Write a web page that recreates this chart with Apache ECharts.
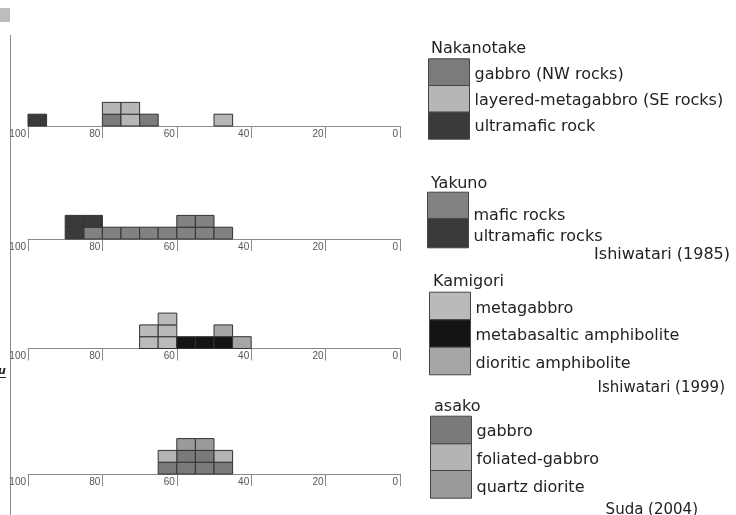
<!DOCTYPE html>
<html>
<head>
<meta charset="utf-8">
<script src="https://cdn.jsdelivr.net/npm/echarts@6/dist/echarts.min.js"></script>
<style>html,body{margin:0;padding:0;background:#fff;}#c{width:736px;height:515px;}</style>
</head>
<body>
<div id="c"></div>
<script>
// Bin upper/lower edges (100 -> 0, 5-unit bins)
const binHigh = [100,95,90,85,80,75,70,65,60,55,50,45,40,35,30,25,20,15,10,5];
const binLow  = [95,90,85,80,75,70,65,60,55,50,45,40,35,30,25,20,15,10,5,0];
const xTickInterval = 20;

// Nakanotake
const nakUltramafic = [1,0,0,0,0,0,0,0,0,0,0,0,0,0,0,0,0,0,0,0];
const nakGabbro     = [0,0,0,0,1,0,1,0,0,0,0,0,0,0,0,0,0,0,0,0];
const nakLayered    = [0,0,0,0,1,2,0,0,0,0,1,0,0,0,0,0,0,0,0,0];
// Yakuno
const yakMafic      = [0,0,0,1,1,1,1,1,2,2,1,0,0,0,0,0,0,0,0,0];
const yakUltramafic = [0,0,2,1,0,0,0,0,0,0,0,0,0,0,0,0,0,0,0,0];
// Kamigori
const kamMetagabbro = [0,0,0,0,0,0,2,3,0,0,0,0,0,0,0,0,0,0,0,0];
const kamMetabasalt = [0,0,0,0,0,0,0,0,1,1,1,0,0,0,0,0,0,0,0,0];
const kamDioritic   = [0,0,0,0,0,0,0,0,0,0,1,1,0,0,0,0,0,0,0,0];
// asako
const asaGabbro     = [0,0,0,0,0,0,0,1,2,2,1,0,0,0,0,0,0,0,0,0];
const asaFoliated   = [0,0,0,0,0,0,0,1,0,0,1,0,0,0,0,0,0,0,0,0];
const asaQuartz     = [0,0,0,0,0,0,0,0,1,1,0,0,0,0,0,0,0,0,0,0];

// panels: stacking order bottom -> top, and legend order
const panels = [
  {title:'Nakanotake', stack:[
      {name:'ultramafic rock', data:nakUltramafic, color:'#3a3a3a'},
      {name:'gabbro (NW rocks)', data:nakGabbro, color:'#7b7b7b'},
      {name:'layered-metagabbro (SE rocks)', data:nakLayered, color:'#b6b6b6'}],
    legend:['gabbro (NW rocks)','layered-metagabbro (SE rocks)','ultramafic rock']},
  {title:'Yakuno', stack:[
      {name:'mafic rocks', data:yakMafic, color:'#828282'},
      {name:'ultramafic rocks', data:yakUltramafic, color:'#3a3a3a'}],
    legend:['mafic rocks','ultramafic rocks']},
  {title:'Kamigori', stack:[
      {name:'metagabbro', data:kamMetagabbro, color:'#bababa'},
      {name:'metabasaltic amphibolite', data:kamMetabasalt, color:'#141414'},
      {name:'dioritic amphibolite', data:kamDioritic, color:'#a6a6a6'}],
    legend:['metagabbro','metabasaltic amphibolite','dioritic amphibolite']},
  {title:'asako', stack:[
      {name:'gabbro', data:asaGabbro, color:'#7a7a7a'},
      {name:'foliated-gabbro', data:asaFoliated, color:'#b4b4b4'},
      {name:'quartz diorite', data:asaQuartz, color:'#9a9a9a'}],
    legend:['gabbro','foliated-gabbro','quartz diorite']}
];

const axisY = [126, 239, 348.5, 474];
const unitPx = 11.8, yMax = 6;
const FONT = 'DejaVu Sans';

function renderItem(params, api) {
  const hi = api.value(0), lo = api.value(1), base = api.value(2), n = api.value(3);
  const color = api.visual('color');
  const children = [];
  for (let k = 0; k < n; k++) {
    const p0 = api.coord([hi, base + k + 1]);
    const p1 = api.coord([lo, base + k]);
    children.push({type:'rect', shape:{x:Math.min(p0[0],p1[0]), y:Math.min(p0[1],p1[1]),
      width:Math.abs(p1[0]-p0[0]), height:Math.abs(p1[1]-p0[1])},
      style:{fill:color, stroke:'#333', lineWidth:1}});
  }
  return {type:'group', children};
}

const grids = [], xAxes = [], yAxes = [], series = [];
panels.forEach((p, pi) => {
  grids.push({left:28, width:372, top:axisY[pi] - unitPx*yMax, height:unitPx*yMax});
  xAxes.push({type:'value', gridIndex:pi, min:0, max:100, interval:xTickInterval, inverse:true,
    axisLine:{show:true, lineStyle:{color:'#8a8a8a', width:1}},
    axisTick:{show:true, length:12, lineStyle:{color:'#8a8a8a'}},
    splitLine:{show:false},
    axisLabel:{show:true, fontSize:10, color:'#555', fontFamily:'Liberation Sans', align:'right',
      verticalAlign:'top', margin:3, padding:[0,2,0,0], showMinLabel:true, showMaxLabel:true}});
  yAxes.push({type:'value', gridIndex:pi, min:0, max:yMax, show:false});
  const cum = binHigh.map(() => 0);
  p.stack.forEach(s => {
    const data = [];
    s.data.forEach((c, i) => {
      if (c > 0) { data.push([binHigh[i], binLow[i], cum[i], c]); cum[i] += c; }
    });
    series.push({type:'custom', name:s.name, xAxisIndex:pi, yAxisIndex:pi,
      renderItem, data, encode:{x:[0,1], y:2}, color:s.color,
      itemStyle:{color:s.color, borderColor:'#333', borderWidth:1}});
  });
});

// downward text offset (px) of legend labels, per item
const textDrop = {
  'gabbro (NW rocks)':3, 'layered-metagabbro (SE rocks)':2, 'ultramafic rock':1,
  'mafic rocks':10, 'ultramafic rocks':4,
  'metagabbro':3, 'metabasaltic amphibolite':2, 'dioritic amphibolite':3,
  'gabbro':2, 'foliated-gabbro':3, 'quartz diorite':3
};
const rich = {};
Object.values(textDrop).forEach(v => {
  rich['d' + v] = {fontFamily:FONT, fontSize:16, color:'#222', height:2, lineHeight:18, padding:[2 * v,0,0,0]};
});

// legend block placement: left, first box top, box pitch, box heights
const legendLayout = [
  {left:428, top:58.3, h:[26.7, 26.7, 27]},
  {left:427, top:191.7, h:[26.6, 29]},
  {left:429, top:291.7, h:[27.6, 27.4, 27.6]},
  {left:430, top:415.7, h:[27.6, 26.7, 27.7]}
];
const legends = [];
panels.forEach((p, pi) => {
  const L = legendLayout[pi];
  let y = L.top;
  p.legend.forEach((n, k) => {
    legends.push({
      orient:'vertical', left:L.left, top:y, padding:0,
      itemGap:0, itemWidth:41, itemHeight:L.h[k], icon:'rect', selectedMode:false,
      itemStyle:{borderColor:'#444', borderWidth:1},
      formatter: name => '{d' + textDrop[name] + '|' + name + '}',
      textStyle:{fontFamily:FONT, fontSize:16, color:'#222', rich},
      data:[{name:n}]
    });
    y += L.h[k];
  });
});

const titleTexts = [
  {text:'Nakanotake', x:431, y:49, size:16},
  {text:'Yakuno', x:431, y:184, size:16},
  {text:'Kamigori', x:433, y:282, size:16},
  {text:'asako', x:434, y:407, size:16}
];
const cites = [
  {text:'Ishiwatari (1985)', x:730, y:255, size:16},
  {text:'Ishiwatari (1999)', x:725, y:388, size:15},
  {text:'Suda (2004)', x:698, y:510, size:15}
];

const graphic = [
  {type:'rect', shape:{x:0, y:8, width:10, height:14}, style:{fill:'#bdbdbd'}},
  {type:'line', shape:{x1:10.5, y1:35, x2:10.5, y2:515}, style:{stroke:'#8a8a8a', lineWidth:1}},
  {type:'text', x:-2, y:371, style:{text:'u', font:'italic bold 11px "DejaVu Sans"', fill:'#222', textVerticalAlign:'middle'}},
  {type:'line', shape:{x1:0, y1:377.5, x2:6, y2:377.5}, style:{stroke:'#222', lineWidth:1}}
];
titleTexts.concat(cites).forEach((t, i) => {
  graphic.push({type:'text', x:t.x, y:t.y, style:{text:t.text, font:t.size + 'px "' + FONT + '"',
    fill:'#222', textAlign: i < titleTexts.length ? 'left' : 'right', textVerticalAlign:'middle'}});
});

const chart = echarts.init(document.getElementById('c'), null, {renderer:'canvas'});
chart.setOption({
  animation:false,
  backgroundColor:'#fff',
  grid:grids, xAxis:xAxes, yAxis:yAxes, series, legend:legends, graphic
});
</script>
</body>
</html>
